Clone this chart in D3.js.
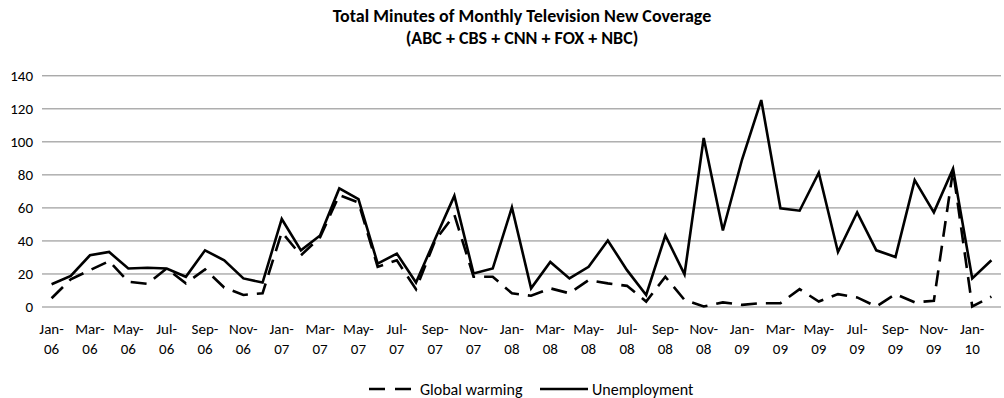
<!DOCTYPE html>
<html lang="en">
<head>
<meta charset="UTF-8">
<title>Total Minutes of Monthly Television New Coverage</title>
<script src="https://d3js.org/d3.v7.min.js"></script>
<style>
    body { margin: 0; background: #fff; }
    text { font-family: Carlito, Lato, 'Liberation Sans', sans-serif; fill: #000; }
</style>
</head>
<body>
<svg id="chart" width="1004" height="398"></svg>
<script>
    // Data
    const months = [
        "Jan-06","Feb-06","Mar-06","Apr-06","May-06","Jun-06","Jul-06","Aug-06","Sep-06","Oct-06","Nov-06","Dec-06",
        "Jan-07","Feb-07","Mar-07","Apr-07","May-07","Jun-07","Jul-07","Aug-07","Sep-07","Oct-07","Nov-07","Dec-07",
        "Jan-08","Feb-08","Mar-08","Apr-08","May-08","Jun-08","Jul-08","Aug-08","Sep-08","Oct-08","Nov-08","Dec-08",
        "Jan-09","Feb-09","Mar-09","Apr-09","May-09","Jun-09","Jul-09","Aug-09","Sep-09","Oct-09","Nov-09","Dec-09",
        "Jan-10","Feb-10"
    ];
    const globalWarming = [
        5, 16.5, 22, 27.5, 15, 13.7, 23, 14, 22.5, 11.5, 7, 8,
        45, 31, 42, 67.5, 63, 24, 28, 10.5, 40, 55.5, 18, 18,
        8, 6.5, 11, 8, 16, 14, 12.5, 3, 18, 4, 0, 2.5,
        1, 2, 2, 10.5, 3, 7.5, 5.5, 0, 7.5, 2.5, 3.5, 82.5,
        0, 6
    ];
    const unemployment = [
        13.5, 18.5, 31, 33, 23, 23.5, 23, 18, 34, 28, 17, 14.5,
        53, 34, 43, 71.5, 65, 26, 32, 14.5, 41, 67, 20, 23,
        60, 11, 27, 17, 24, 40, 22, 7, 43, 19.5, 102, 46,
        89, 125, 59.5, 58, 81, 33, 57, 34, 30, 76.5, 57, 83.5,
        17, 28
    ];
    const yTicks = [0, 20, 40, 60, 80, 100, 120, 140];

    const svg = d3.select("#chart");
    const plotLeft = 42, plotRight = 1001, plotTop = 75.3, plotBottom = 306.5;
    const font = "Carlito, Lato, 'Liberation Sans', sans-serif";

    svg.append("rect").attr("width", 1004).attr("height", 398).attr("fill", "#fff");

    // Title (two separate lines)
    const titleLines = ["Total Minutes of Monthly Television New Coverage", "(ABC + CBS + CNN + FOX + NBC)"];
    svg.append("g").selectAll("text")
        .data(titleLines)
        .join("text")
        .attr("x", 522)
        .attr("y", (d, i) => 22 + i * 22)
        .attr("text-anchor", "middle")
        .style("font-size", "18px")
        .style("font-weight", "bold")
        .text(d => d);

    const x = d3.scaleBand().domain(months).range([plotLeft, plotRight]);
    const y = d3.scaleLinear().domain([0, 140]).range([plotBottom, plotTop]);
    const cx = d => x(d) + x.bandwidth() / 2;

    // Gridlines + y labels
    const yAxis = svg.append("g")
        .attr("transform", `translate(${plotLeft},0)`)
        .call(d3.axisLeft(y).tickValues(yTicks).tickSize(-(plotRight - plotLeft)).tickPadding(9));
    yAxis.select(".domain").remove();
    yAxis.selectAll(".tick line").attr("stroke", "#878787").attr("stroke-width", 1);
    yAxis.selectAll(".tick text")
        .style("font-size", "15px")
        .style("font-family", font)
        .attr("fill", "#000");

    // X labels (every other month, two lines)
    const xLab = svg.append("g");
    months.forEach((m, i) => {
        if (i % 2 !== 0) return;
        const parts = m.split("-");
        const t = xLab.append("text")
            .attr("text-anchor", "middle")
            .style("font-size", "15px");
        t.append("tspan").attr("x", cx(m)).attr("y", 334).text(parts[0] + "-");
        t.append("tspan").attr("x", cx(m)).attr("y", 354).text(parts[1]);
    });

    const line = d3.line().x((d, i) => cx(months[i])).y(d => y(d));

    svg.append("path")
        .datum(globalWarming)
        .attr("d", line)
        .attr("fill", "none")
        .attr("stroke", "#000")
        .attr("stroke-width", 2.6)
        .attr("stroke-dasharray", "16,9");

    svg.append("path")
        .datum(unemployment)
        .attr("d", line)
        .attr("fill", "none")
        .attr("stroke", "#000")
        .attr("stroke-width", 2.6);

    // Legend
    const ly = 389;
    const legend = svg.append("g");
    legend.append("line")
        .attr("x1", 369).attr("x2", 412).attr("y1", ly).attr("y2", ly)
        .attr("stroke", "#000").attr("stroke-width", 2.6).attr("stroke-dasharray", "16,10");
    legend.append("text").attr("x", 420).attr("y", ly + 5.5)
        .style("font-size", "16px").text("Global warming");
    legend.append("line")
        .attr("x1", 540).attr("x2", 588).attr("y1", ly).attr("y2", ly)
        .attr("stroke", "#000").attr("stroke-width", 2.6);
    legend.append("text").attr("x", 592).attr("y", ly + 5.5)
        .style("font-size", "16px").text("Unemployment");
</script>
</body>
</html>
